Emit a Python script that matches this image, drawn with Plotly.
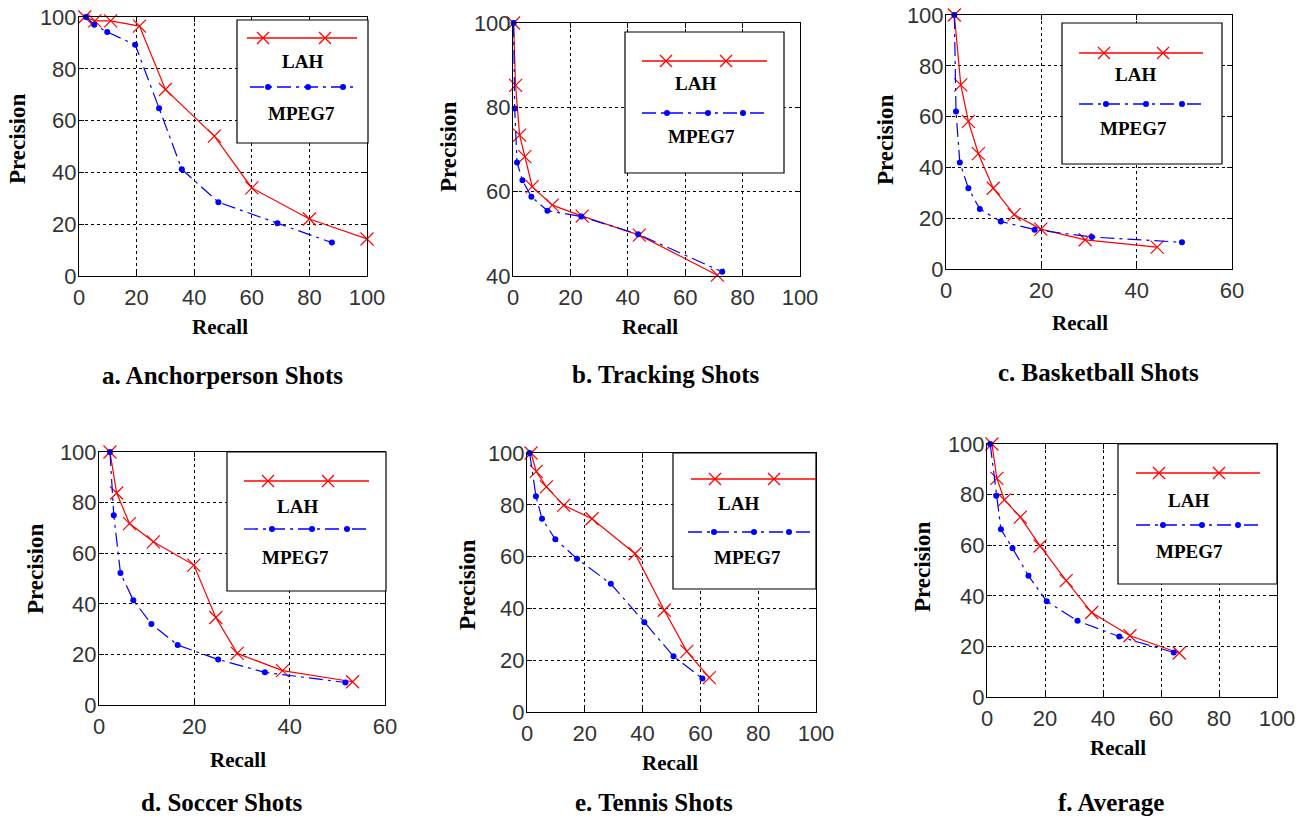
import plotly.graph_objects as go

W, H = 1307, 818

# ---------------- data ----------------
a_lah_recall = [2, 5.5, 11, 21, 30, 47, 60, 80, 100]
a_lah_prec = [100, 98.5, 98.5, 96.5, 72, 54, 34, 22, 14.3]
a_mpeg_recall = [2.4, 5.3, 9.8, 19.5, 27.8, 35.7, 48.4, 68.9, 87.8]
a_mpeg_prec = [100, 97, 94.2, 89.3, 64.8, 41.2, 28.5, 20.4, 12.9]

b_lah_recall = [0.2, 0.9, 2.3, 4.1, 6.7, 13.7, 24.1, 44, 71.2]
b_lah_prec = [100, 85.2, 73.4, 68.3, 61.2, 56.8, 54.2, 49.7, 40.2]
b_mpeg_recall = [0.2, 0.6, 1.4, 3.3, 6.4, 12, 23.8, 43.6, 72.9]
b_mpeg_prec = [100, 79.7, 66.9, 62.7, 58.8, 55.5, 54.1, 49.9, 41]

c_lah_recall = [1.75, 3.1, 4.7, 6.8, 9.9, 14.3, 19.9, 29.2, 44.3]
c_lah_prec = [100, 72.5, 58.1, 45.4, 31.8, 21.4, 15.7, 11.5, 8.6]
c_mpeg_recall = [1.75, 2.1, 2.9, 4.7, 7.1, 11.5, 18.6, 30.6, 49.5]
c_mpeg_prec = [100, 62, 41.9, 31.8, 23.6, 18.7, 15.5, 12.6, 10.5]

d_lah_recall = [2.3, 3.7, 6.4, 11.4, 19.9, 24.5, 29, 38.5, 53.2]
d_lah_prec = [100, 83.8, 71.7, 64.5, 55.3, 34.6, 20.4, 13.6, 9.2]
d_mpeg_recall = [2.3, 3.1, 4.5, 7.2, 11, 16.5, 25, 34.8, 51.7]
d_mpeg_prec = [100, 75, 52.2, 41.4, 32, 23.7, 18, 12.9, 8.9]

e_lah_recall = [1.4, 3.2, 6.7, 12.7, 22.5, 37.4, 47.5, 55.3, 63.1]
e_lah_prec = [100, 92.9, 86.9, 79.8, 74.6, 61.1, 39.3, 23.4, 13.3]
e_mpeg_recall = [0.9, 3.1, 5.2, 9.8, 17.3, 29, 40.6, 50.7, 60.7]
e_mpeg_prec = [100, 83.3, 74.6, 66.7, 59.2, 49.5, 34.7, 21.5, 12.9]

f_lah_recall = [1.7, 3.4, 6, 11.5, 18.3, 27.3, 36.1, 49.3, 66.3]
f_lah_prec = [100, 86.4, 77.9, 71.1, 59.7, 46, 33.4, 24.2, 17.4]
f_mpeg_recall = [1.1, 3.2, 4.8, 8.8, 14.3, 20.6, 31.2, 45.6, 64.4]
f_mpeg_prec = [100, 79.5, 66.3, 58.8, 47.9, 37.8, 30.1, 23.9, 17.6]

captions = ["a. Anchorperson Shots", "b. Tracking Shots", "c. Basketball Shots",
            "d. Soccer Shots", "e. Tennis Shots", "f. Average"]
series_names = ["LAH", "MPEG7"]
x_ranges = [[0, 100], [0, 100], [0, 60], [0, 60], [0, 100], [0, 100]]
y_ranges = [[0, 100], [40, 100], [0, 100], [0, 100], [0, 100], [0, 100]]
x_title = "Recall"
y_title = "Precision"

data = [
    (a_lah_recall, a_lah_prec, a_mpeg_recall, a_mpeg_prec),
    (b_lah_recall, b_lah_prec, b_mpeg_recall, b_mpeg_prec),
    (c_lah_recall, c_lah_prec, c_mpeg_recall, c_mpeg_prec),
    (d_lah_recall, d_lah_prec, d_mpeg_recall, d_mpeg_prec),
    (e_lah_recall, e_lah_prec, e_mpeg_recall, e_mpeg_prec),
    (f_lah_recall, f_lah_prec, f_mpeg_recall, f_mpeg_prec),
]

# ---------------- layout geometry (pixels) ----------------
plot_boxes = [  # left, top, right, bottom
    (79, 17, 367, 276), (513, 23, 800, 276), (946, 15, 1232, 269),
    (99, 452, 385, 705), (527, 453, 816, 712), (987, 444, 1277, 697),
]
recall_pos = [(220, 327), (650, 327), (1080, 323), (238, 760), (670, 763), (1118, 748)]
prec_pos = [(18, 139), (448, 147), (885, 140), (35, 569), (467, 585), (922, 567)]
caption_pos = [(222, 375), (666, 374), (1098, 372), (222, 802), (654, 802), (1111, 802)]
legends = [
    dict(box=(237, 20, 368, 143), l1=(38, 247, 357), m1=(263, 325), t1=(302, 61),
         l2=(87, 250, 358), m2=(268, 308, 343), t2=(301, 113)),
    dict(box=(625, 32, 784, 173), l1=(61, 642, 767), m1=(666, 726), t1=(695, 83),
         l2=(113, 642, 767), m2=(667, 708, 743), t2=(701, 136)),
    dict(box=(1062, 23, 1222, 164), l1=(53, 1079, 1203), m1=(1104, 1163), t1=(1135, 75),
         l2=(104, 1079, 1205), m2=(1106, 1146, 1182), t2=(1133, 129)),
    dict(box=(227, 452, 386, 591), l1=(481, 244, 369), m1=(268, 328), t1=(297, 506),
         l2=(529, 244, 371), m2=(272, 312, 347), t2=(295, 557)),
    dict(box=(673, 453, 816, 589), l1=(479, 691, 816), m1=(715, 774), t1=(738, 503),
         l2=(532, 688, 814), m2=(714, 754, 789), t2=(747, 557)),
    dict(box=(1118, 444, 1277, 584), l1=(473, 1136, 1260), m1=(1159, 1219), t1=(1188, 500),
         l2=(525, 1136, 1262), m2=(1163, 1202, 1238), t2=(1189, 551)),
]

RED = "#FF0000"
BLUE = "#0000FF"
DASH = "14px,5px,3px,5px"
TICK_FONT = dict(family="Liberation Sans", size=22, color="#333333")
SERIF_BOLD = dict(family="Liberation Serif", color="black", weight="bold")


def px(xp):
    return xp / W


def py(yp):
    return 1 - yp / H


fig = go.Figure()
shapes = []
annotations = []

for i, (lx, ly, mx, my) in enumerate(data):
    n = i + 1
    xa = "x" if n == 1 else f"x{n}"
    ya = "y" if n == 1 else f"y{n}"
    fig.add_trace(go.Scatter(
        x=lx, y=ly, xaxis=xa, yaxis=ya, mode="lines+markers", name=series_names[0],
        line=dict(color=RED, width=1.2),
        marker=dict(symbol="x-thin", size=13, color=RED, line=dict(color=RED, width=1.2)),
        cliponaxis=False, showlegend=False))
    fig.add_trace(go.Scatter(
        x=mx, y=my, xaxis=xa, yaxis=ya, mode="lines+markers", name=series_names[1],
        line=dict(color=BLUE, width=1.2, dash=DASH),
        marker=dict(symbol="circle", size=6, color=BLUE),
        cliponaxis=False, showlegend=False))

    l, t, r, b = plot_boxes[i]
    axis_common = dict(
        showline=True, linecolor="black", linewidth=1, mirror="ticks",
        ticks="inside", ticklen=5, tickcolor="black", tickwidth=1,
        showgrid=True, gridcolor="black", gridwidth=1, griddash="3px,3px",
        zeroline=False, tickfont=TICK_FONT, fixedrange=True, automargin=False,
    )
    xkey = "xaxis" if n == 1 else f"xaxis{n}"
    ykey = "yaxis" if n == 1 else f"yaxis{n}"
    fig.update_layout({
        xkey: dict(domain=[px(l), px(r)], range=x_ranges[i], dtick=20, anchor=ya,
                   ticklabelstandoff=2, **axis_common),
        ykey: dict(domain=[py(b), py(t)], range=y_ranges[i], dtick=20, anchor=xa,
                   ticklabelstandoff=-3, **axis_common),
    })

    annotations.append(dict(text=x_title, x=px(recall_pos[i][0]), y=py(recall_pos[i][1]),
                            xref="paper", yref="paper", showarrow=False,
                            xanchor="center", yanchor="middle",
                            font=dict(size=21, **SERIF_BOLD)))
    annotations.append(dict(text=y_title, x=px(prec_pos[i][0]), y=py(prec_pos[i][1]),
                            xref="paper", yref="paper", showarrow=False, textangle=-90,
                            xanchor="center", yanchor="middle",
                            font=dict(size=23, **SERIF_BOLD)))
    annotations.append(dict(text=captions[i], x=px(caption_pos[i][0]), y=py(caption_pos[i][1]),
                            xref="paper", yref="paper", showarrow=False,
                            xanchor="center", yanchor="middle",
                            font=dict(size=25, **SERIF_BOLD)))

    lg = legends[i]
    bl, bt, br, bb = lg["box"]
    shapes.append(dict(type="rect", xref="paper", yref="paper",
                       x0=px(bl), x1=px(br), y0=py(bb), y1=py(bt),
                       line=dict(color="black", width=1.2), fillcolor="white", layer="above"))
    yy, x0, x1 = lg["l1"]
    shapes.append(dict(type="line", xref="paper", yref="paper", x0=px(x0), x1=px(x1),
                       y0=py(yy), y1=py(yy), line=dict(color=RED, width=1.3), layer="above"))
    for mxp in lg["m1"]:
        shapes.append(dict(type="path", xref="paper", yref="paper",
                           xsizemode="pixel", ysizemode="pixel",
                           xanchor=px(mxp), yanchor=py(yy),
                           path="M -6 -6 L 6 6 M -6 6 L 6 -6",
                           line=dict(color=RED, width=1.3), layer="above"))
    yy, x0, x1 = lg["l2"]
    shapes.append(dict(type="line", xref="paper", yref="paper", x0=px(x0), x1=px(x1),
                       y0=py(yy), y1=py(yy),
                       line=dict(color=BLUE, width=1.3, dash=DASH), layer="above"))
    for mxp in lg["m2"]:
        shapes.append(dict(type="circle", xref="paper", yref="paper",
                           xsizemode="pixel", ysizemode="pixel",
                           xanchor=px(mxp), yanchor=py(yy),
                           x0=-3, x1=3, y0=-3, y1=3,
                           line=dict(color=BLUE, width=0), fillcolor=BLUE, layer="above"))
    annotations.append(dict(text=series_names[0], x=px(lg["t1"][0]), y=py(lg["t1"][1]),
                            xref="paper", yref="paper", showarrow=False,
                            xanchor="center", yanchor="middle",
                            font=dict(size=19, **SERIF_BOLD)))
    annotations.append(dict(text=series_names[1], x=px(lg["t2"][0]), y=py(lg["t2"][1]),
                            xref="paper", yref="paper", showarrow=False,
                            xanchor="center", yanchor="middle",
                            font=dict(size=19, **SERIF_BOLD)))

fig.update_layout(
    width=W, height=H, margin=dict(l=0, r=0, t=0, b=0, pad=0, autoexpand=False),
    paper_bgcolor="white", plot_bgcolor="white",
    showlegend=False, shapes=shapes, annotations=annotations,
)

fig.write_html(
    "out.html",
    config={"displayModeBar": False},
    post_script="document.body.style.margin='0px';document.body.style.overflow='hidden';",
)
